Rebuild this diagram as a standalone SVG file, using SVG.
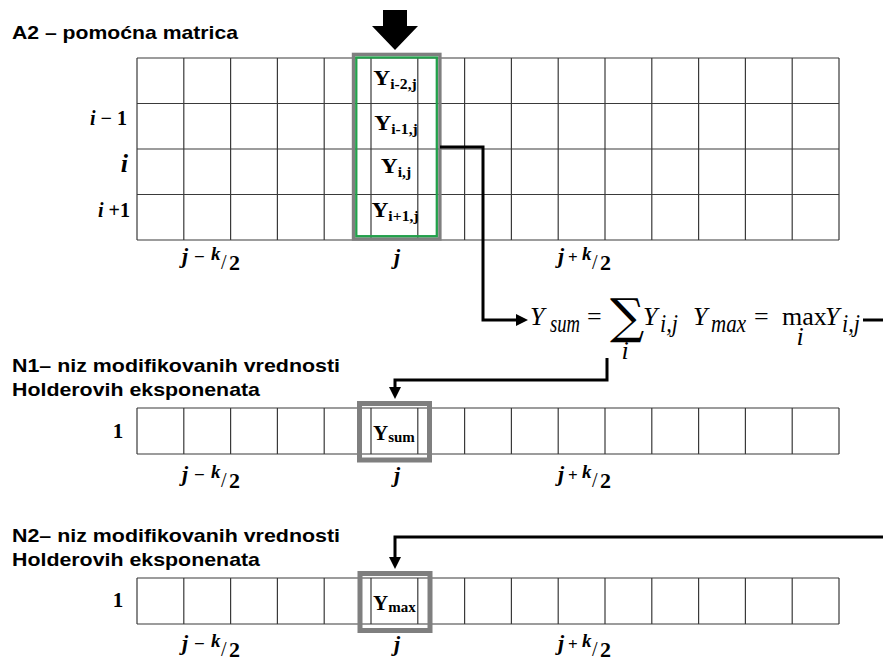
<svg xmlns="http://www.w3.org/2000/svg" width="883" height="663" viewBox="0 0 883 663">
<style>
.h{font-family:"Liberation Sans",Arial,sans-serif;font-weight:bold;font-size:19px;fill:#000}
.grid{fill:none;stroke:#3a3a3a;stroke-width:1.2}
.hlg{fill:none;stroke:#7f7f7f;stroke-width:3.4}
.hlb{fill:none;stroke:#7f7f7f;stroke-width:5}
.grn{fill:none;stroke:#22a04b;stroke-width:2.3}
.cell{font-family:"Liberation Serif","Times New Roman",serif;font-weight:bold;font-size:21px;fill:#000}
.m{font-family:"Liberation Serif","Times New Roman",serif;font-weight:bold;font-style:italic;fill:#000}
.f{font-family:"Liberation Serif","Times New Roman",serif;font-style:italic;font-size:26px;fill:#000}
.sig{font-family:"DejaVu Serif",serif;font-style:normal;fill:#000}
.conn{fill:none;stroke:#000;stroke-width:3}
.n{font-style:normal}
</style>
<defs>
<marker id="ah" markerUnits="userSpaceOnUse" markerWidth="14" markerHeight="12" refX="0" refY="6" orient="auto">
<path d="M0,0 L12,6 L0,12 z" fill="#000"/>
</marker>
</defs>

<g id="title-a2"><text class="h" x="12" y="39" textLength="226" lengthAdjust="spacingAndGlyphs">A2 – pomoćna matrica</text></g>

<g id="input-arrow"><polygon points="383,10 407,10 407,26 418,26 395,50 372,26 383,26" fill="#000"/></g>

<g id="matrix-a2">
<path class="grid" d="M137,58V240M183.8,58V240M230.6,58V240M277.4,58V240M324.2,58V240M371,58V240M417.8,58V240M464.6,58V240M511.4,58V240M558.2,58V240M605,58V240M651.8,58V240M698.6,58V240M745.4,58V240M792.2,58V240M839,58V240M137,58H839M137,103.5H839M137,149H839M137,194.5H839M137,240H839"/>
<text class="m" x="127" y="125" text-anchor="end" font-size="20">i<tspan class="n"> − 1</tspan></text>
<text class="m" x="128" y="172" text-anchor="end" font-size="26">i</text>
<text class="m" x="130" y="217" text-anchor="end" font-size="20">i<tspan class="n"> +1</tspan></text>
</g>

<g id="column-a2">
<rect class="hlg" x="353.5" y="54.4" width="86.4" height="184.6"/>
<rect class="grn" x="356.3" y="57.5" width="80.5" height="178.7"/>
<text class="cell" transform="translate(395,85) scale(1.12,1)" text-anchor="middle" font-size="22">Y<tspan font-size="14" dy="4">i-2,j</tspan></text>
<text class="cell" transform="translate(396,130) scale(1.12,1)" text-anchor="middle" font-size="22">Y<tspan font-size="14" dy="4">i-1,j</tspan></text>
<text class="cell" transform="translate(396,173) scale(1.12,1)" text-anchor="middle" font-size="22">Y<tspan font-size="14" dy="4">i,j</tspan></text>
<text class="cell" transform="translate(395,217) scale(1.12,1)" text-anchor="middle" font-size="22">Y<tspan font-size="14" dy="4">i+1,j</tspan></text>
</g>

<g id="labels-a2">
<text class="m" font-size="22"><tspan x="182" y="263">j</tspan><tspan class="n" x="194" y="263" font-size="19">−</tspan><tspan x="211" y="260" font-size="19">k</tspan><tspan class="n" x="221" y="269" font-size="20" font-weight="normal">/</tspan><tspan class="n" x="229" y="270" font-size="22">2</tspan></text>
<text class="m" font-size="22" x="397" y="264" text-anchor="middle">j</text>
<text class="m" font-size="22"><tspan x="558" y="263">j</tspan><tspan class="n" x="568" y="263" font-size="17">+</tspan><tspan x="582" y="260" font-size="19">k</tspan><tspan class="n" x="592" y="269" font-size="20" font-weight="normal">/</tspan><tspan class="n" x="600" y="270" font-size="22">2</tspan></text>
</g>

<g id="formula">
<text class="f" x="530" y="325">Y</text>
<text class="f" x="550" y="332" font-size="17" textLength="30" lengthAdjust="spacingAndGlyphs">sum</text>
<text class="f n" x="587" y="325">=</text>
<text class="sig" x="610" y="333" font-size="48">∑</text>
<text class="f" x="625" y="359" font-size="17" text-anchor="middle">i</text>
<text class="f" x="643" y="325">Y</text>
<text class="f" x="660" y="332" font-size="17" textLength="18" lengthAdjust="spacingAndGlyphs">i,j</text>
<text class="f" x="693" y="325">Y</text>
<text class="f" x="711" y="332" font-size="17" textLength="35" lengthAdjust="spacingAndGlyphs">max</text>
<text class="f n" x="754" y="325">=</text>
<text class="f n" x="782" y="325" font-size="22">max</text>
<text class="f" x="800" y="345" font-size="16" text-anchor="middle">i</text>
<text class="f" x="825" y="325">Y</text>
<text class="f" x="842" y="332" font-size="17" textLength="18" lengthAdjust="spacingAndGlyphs">i,j</text>
</g>

<g id="title-n1">
<text class="h" x="12" y="372" textLength="328" lengthAdjust="spacingAndGlyphs">N1– niz modifikovanih vrednosti</text>
<text class="h" x="12" y="396" textLength="248" lengthAdjust="spacingAndGlyphs">Holderovih eksponenata</text>
</g>

<g id="array-n1">
<path class="grid" d="M137,408V454M183.8,408V454M230.6,408V454M277.4,408V454M324.2,408V454M371,408V454M417.8,408V454M464.6,408V454M511.4,408V454M558.2,408V454M605,408V454M651.8,408V454M698.6,408V454M745.4,408V454M792.2,408V454M839,408V454M137,408H839M137,454H839"/>
<text class="cell" x="118" y="438" text-anchor="middle" font-size="20">1</text>
<text class="m" font-size="22"><tspan x="182" y="481">j</tspan><tspan class="n" x="194" y="481" font-size="19">−</tspan><tspan x="211" y="478" font-size="19">k</tspan><tspan class="n" x="221" y="487" font-size="20" font-weight="normal">/</tspan><tspan class="n" x="229" y="488" font-size="22">2</tspan></text>
<text class="m" font-size="22" x="397" y="482" text-anchor="middle">j</text>
<text class="m" font-size="22"><tspan x="558" y="481">j</tspan><tspan class="n" x="568" y="481" font-size="17">+</tspan><tspan x="582" y="478" font-size="19">k</tspan><tspan class="n" x="592" y="487" font-size="20" font-weight="normal">/</tspan><tspan class="n" x="600" y="488" font-size="22">2</tspan></text>
</g>

<g id="cell-ysum">
<rect class="hlb" x="359.5" y="403.5" width="70" height="56.5"/>
<text class="cell" x="373" y="440" font-size="25">Y<tspan font-size="15" dy="2">sum</tspan></text>
</g>

<g id="title-n2">
<text class="h" x="12" y="542" textLength="328" lengthAdjust="spacingAndGlyphs">N2– niz modifikovanih vrednosti</text>
<text class="h" x="12" y="566" textLength="248" lengthAdjust="spacingAndGlyphs">Holderovih eksponenata</text>
</g>

<g id="array-n2">
<path class="grid" d="M137,578V624M183.8,578V624M230.6,578V624M277.4,578V624M324.2,578V624M371,578V624M417.8,578V624M464.6,578V624M511.4,578V624M558.2,578V624M605,578V624M651.8,578V624M698.6,578V624M745.4,578V624M792.2,578V624M839,578V624M137,578H839M137,624H839"/>
<text class="cell" x="118" y="607" text-anchor="middle" font-size="20">1</text>
<text class="m" font-size="22"><tspan x="182" y="650">j</tspan><tspan class="n" x="194" y="650" font-size="19">−</tspan><tspan x="211" y="647" font-size="19">k</tspan><tspan class="n" x="221" y="656" font-size="20" font-weight="normal">/</tspan><tspan class="n" x="229" y="657" font-size="22">2</tspan></text>
<text class="m" font-size="22" x="397" y="651" text-anchor="middle">j</text>
<text class="m" font-size="22"><tspan x="558" y="650">j</tspan><tspan class="n" x="568" y="650" font-size="17">+</tspan><tspan x="582" y="647" font-size="19">k</tspan><tspan class="n" x="592" y="656" font-size="20" font-weight="normal">/</tspan><tspan class="n" x="600" y="657" font-size="22">2</tspan></text>
</g>

<g id="cell-ymax">
<rect class="hlb" x="360" y="573.5" width="70" height="57"/>
<text class="cell" x="373" y="610" font-size="25">Y<tspan font-size="15" dy="2">max</tspan></text>
</g>

<g id="connectors">
<path class="conn" d="M440,147H483V320H516" marker-end="url(#ah)"/>
<path class="conn" d="M607,358V380H395V387" marker-end="url(#ah)"/>
<path class="conn" d="M863,320H883"/>
<path class="conn" d="M883,537H395V557" marker-end="url(#ah)"/>
</g>
</svg>
